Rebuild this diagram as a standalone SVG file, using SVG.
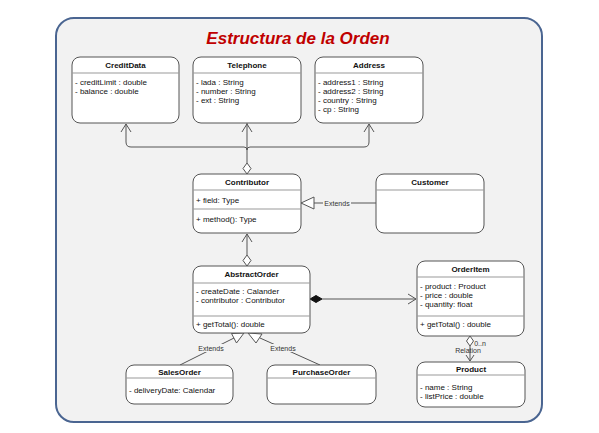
<svg xmlns="http://www.w3.org/2000/svg" width="599" height="433" viewBox="0 0 599 433">
<defs>
<style>
.frame{fill:#f2f2f2;stroke:#4a6591;stroke-width:2}
.box{fill:#ffffff;stroke:#555555;stroke-width:1}
.sep{stroke:#999999;stroke-width:1}
.ttl{font-family:"Liberation Sans",Arial,sans-serif;font-size:8px;font-weight:bold;fill:#111;text-anchor:middle}
.att{font-family:"Liberation Sans",Arial,sans-serif;font-size:8px;fill:#111}
.lbl{font-family:"Liberation Sans",Arial,sans-serif;font-size:7px;fill:#333;text-anchor:middle}
.ln{fill:none;stroke:#555555;stroke-width:1}
.od{fill:#ffffff;stroke:#555555;stroke-width:1}
.fd{fill:#111111;stroke:#111111;stroke-width:1}
.lb{fill:#f2f2f2}
</style>
</defs>
<rect class="frame" x="56" y="18" width="486" height="404" rx="18" ry="18"/>
<text x="298" y="44" font-family="Liberation Sans, Arial, sans-serif" font-size="17" font-weight="bold" font-style="italic" fill="#c00000" text-anchor="middle">Estructura de la Orden</text>

<g id="connectors">
<path class="ln" d="M247,163 V123 M247,150 Q247,147 244,147 H131 Q126,147 126,142 V124 M247,150 Q247,147 250,147 H364 Q369,147 369,142 V124"/>
<path class="ln" d="M121,132 L126,124 L131,132 M242,132 L247,124 L252,132 M364,132 L369,124 L374,132"/>
<polygon class="od" points="247,163 251,168.5 247,174 243,168.5"/>
<path class="ln" d="M247,234 V255 M242,242 L247,234 L252,242"/>
<polygon class="od" points="247,255 251,260.5 247,266 243,260.5"/>
<path class="ln" d="M314,203 H376"/>
<polygon class="od" points="301,203 314,197 314,209"/>
<rect class="lb" x="323" y="199" width="28" height="8"/>
<text class="lbl" x="337" y="205.5">Extends</text>
<polygon class="fd" points="310,299 316,295.5 322,299 316,302.5"/>
<path class="ln" d="M322,299 H416 M408,294 L416,299 L408,304"/>
<polygon class="od" points="470,336 473.5,341 470,346 466.5,341"/>
<path class="ln" d="M470,346 V361 M466,355 L470,361 L474,355"/>
<text class="lbl" x="468" y="353">Relation</text>
<text class="lbl" x="480" y="345.5">0..n</text>
<path class="ln" d="M180,365 L234,338"/>
<polygon class="od" points="244,333 236.5,343 231.5,333.5"/>
<path class="ln" d="M320,365 L260,338"/>
<polygon class="od" points="248,333 262,334 256,343"/>
<rect class="lb" x="197" y="344" width="28" height="8"/>
<text class="lbl" x="211" y="350.5">Extends</text>
<rect class="lb" x="269" y="344" width="28" height="8"/>
<text class="lbl" x="283" y="350.5">Extends</text>
</g>

<g id="CreditData">
<rect class="box" x="72" y="57" width="107" height="66" rx="8"/>
<line class="sep" x1="72" y1="73" x2="179" y2="73"/>
<text class="ttl" x="125.5" y="68">CreditData</text>
<text class="att" x="75" y="85">- creditLimit : double</text>
<text class="att" x="75" y="94">- balance : double</text>
</g>
<g id="Telephone">
<rect class="box" x="193" y="57" width="108" height="66" rx="8"/>
<line class="sep" x1="193" y1="73" x2="301" y2="73"/>
<text class="ttl" x="247" y="68">Telephone</text>
<text class="att" x="196" y="85">- lada : String</text>
<text class="att" x="196" y="94">- number : String</text>
<text class="att" x="196" y="103">- ext : String</text>
</g>
<g id="Address">
<rect class="box" x="315" y="57" width="108" height="66" rx="8"/>
<line class="sep" x1="315" y1="73" x2="423" y2="73"/>
<text class="ttl" x="369" y="68">Address</text>
<text class="att" x="318" y="85">- address1 : String</text>
<text class="att" x="318" y="94">- address2 : String</text>
<text class="att" x="318" y="103">- country : String</text>
<text class="att" x="318" y="112">- cp : String</text>
</g>
<g id="Contributor">
<rect class="box" x="193" y="174" width="108" height="59" rx="8"/>
<line class="sep" x1="193" y1="190" x2="301" y2="190"/>
<line class="sep" x1="193" y1="209" x2="301" y2="209"/>
<text class="ttl" x="247" y="185">Contributor</text>
<text class="att" x="196" y="203">+ field: Type</text>
<text class="att" x="196" y="222">+ method(): Type</text>
</g>
<g id="Customer">
<rect class="box" x="376" y="174" width="108" height="59" rx="8"/>
<line class="sep" x1="376" y1="190" x2="484" y2="190"/>
<text class="ttl" x="430" y="185">Customer</text>
</g>
<g id="AbstractOrder">
<rect class="box" x="193" y="266" width="117" height="67" rx="8"/>
<line class="sep" x1="193" y1="283" x2="310" y2="283"/>
<line class="sep" x1="193" y1="316" x2="310" y2="316"/>
<text class="ttl" x="251.5" y="277">AbstractOrder</text>
<text class="att" x="196" y="294">- createDate : Calander</text>
<text class="att" x="196" y="303">- contributor : Contributor</text>
<text class="att" x="196" y="327">+ getTotal(): double</text>
</g>
<g id="OrderItem">
<rect class="box" x="417" y="261" width="107" height="75" rx="8"/>
<line class="sep" x1="417" y1="277" x2="524" y2="277"/>
<line class="sep" x1="417" y1="316" x2="524" y2="316"/>
<text class="ttl" x="470.5" y="272">OrderItem</text>
<text class="att" x="420" y="289">- product : Product</text>
<text class="att" x="420" y="298">- price : double</text>
<text class="att" x="420" y="307">- quantity: float</text>
<text class="att" x="420" y="327">+ getTotal() : double</text>
</g>
<g id="SalesOrder">
<rect class="box" x="126" y="365" width="107" height="39" rx="8"/>
<line class="sep" x1="126" y1="378" x2="233" y2="378"/>
<text class="ttl" x="179.5" y="375">SalesOrder</text>
<text class="att" x="129" y="393">- deliveryDate: Calendar</text>
</g>
<g id="PurchaseOrder">
<rect class="box" x="267" y="365" width="109" height="39" rx="8"/>
<line class="sep" x1="267" y1="378" x2="376" y2="378"/>
<text class="ttl" x="321.5" y="375">PurchaseOrder</text>
</g>
<g id="Product">
<rect class="box" x="417" y="362" width="108" height="45" rx="8"/>
<line class="sep" x1="417" y1="375" x2="525" y2="375"/>
<text class="ttl" x="471" y="372">Product</text>
<text class="att" x="420" y="390">- name : String</text>
<text class="att" x="420" y="399">- listPrice : double</text>
</g>
</svg>
